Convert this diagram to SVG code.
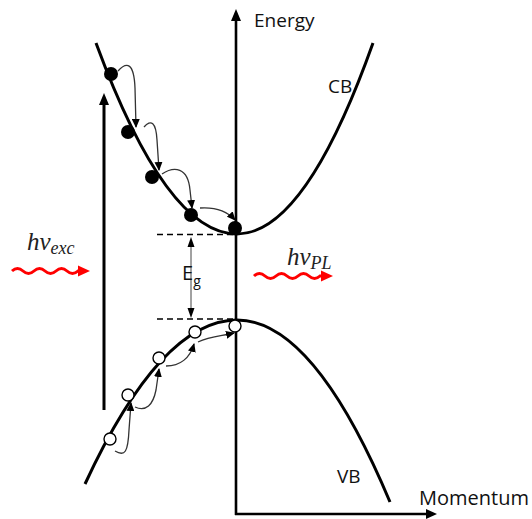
<svg xmlns="http://www.w3.org/2000/svg" width="532" height="519" viewBox="0 0 532 519">
<style>
.band{fill:none;stroke:#000;stroke-width:3}
.axis{fill:none;stroke:#000;stroke-width:2.6}
.hop{fill:none;stroke:#333;stroke-width:1.3;marker-end:url(#ah)}
.dash{fill:none;stroke:#000;stroke-width:1.6;stroke-dasharray:6,4}
.lbl{font-family:"Open Sans","Liberation Sans",Arial,sans-serif;fill:#111}
.math{font-family:"Liberation Serif","DejaVu Serif",serif;font-style:italic;fill:#222}
.wave{fill:none;stroke:#ff0000;stroke-width:3}
.e{fill:#000}
.h{fill:#fff;stroke:#000;stroke-width:1.4}
</style>
<defs>
<marker id="ah" markerUnits="userSpaceOnUse" markerWidth="9" markerHeight="8" refX="8" refY="4" orient="auto">
<path d="M0,0 L9,4 L0,8 z" fill="#000"/>
</marker>
</defs>
<g id="axes">
<line class="axis" x1="236" y1="515" x2="236" y2="18"/>
<polygon points="236,9 231,21 241,21" fill="#000"/>
<line class="axis" x1="235" y1="514" x2="428" y2="514"/>
<polygon points="437,514 426,509 426,519" fill="#000"/>
<text class="lbl" x="254" y="27" font-size="19">Energy</text>
<text class="lbl" x="419" y="505" font-size="20">Momentum</text>
</g>
<g id="cb">
<path class="band" d="M96,43 Q166.5,234 237,234 Q305,234 373,43"/>
<text class="lbl" x="328" y="93" font-size="19">CB</text>
</g>
<g id="vb">
<path class="band" d="M85,484 Q161,320 237,320 Q313.5,320 390,502"/>
<text class="lbl" x="337" y="483" font-size="19">VB</text>
</g>
<g id="gap">
<line class="dash" x1="157" y1="234.5" x2="237" y2="234.5"/>
<line class="dash" x1="157" y1="319" x2="237" y2="319"/>
<line x1="191" y1="246" x2="191" y2="310" stroke="#444" stroke-width="1"/>
<polygon points="191,237 187.5,247 194.5,247" fill="#000"/>
<polygon points="191,318 187.5,308 194.5,308" fill="#000"/>
<text class="lbl" x="182" y="280" font-size="20">E<tspan font-size="14" dy="6">g</tspan></text>
</g>
<g id="excitation">
<line x1="104" y1="410" x2="104" y2="102" stroke="#000" stroke-width="3"/>
<polygon points="104,93 99,105 109,105" fill="#000"/>
<path class="wave" d="M12,271 q5.5,-5 11,0 t11,0 t11,0 t11,0 t11,0 t11,0 l4,0"/>
<polygon points="90,271 78,265.5 78,276.5" fill="#ff0000"/>
<text class="math" x="27" y="250" font-size="25">hv<tspan font-size="18" dy="4">exc</tspan></text>
</g>
<g id="emission">
<path class="wave" d="M254,276 q5.5,-5 11,0 t11,0 t11,0 t11,0 t11,0 t11,0 l3,0"/>
<polygon points="333,276 321,270.5 321,281.5" fill="#ff0000"/>
<text class="math" x="287" y="265" font-size="25">hv<tspan font-size="18" dy="4">PL</tspan></text>
</g>
<g id="electrons">
<circle class="e" cx="111" cy="74" r="7"/>
<circle class="e" cx="128" cy="132" r="7"/>
<circle class="e" cx="152" cy="177" r="7"/>
<circle class="e" cx="191" cy="215" r="7"/>
<circle class="e" cx="235" cy="228" r="7"/>
</g>
<g id="holes">
<circle class="h" cx="110" cy="439" r="6"/>
<circle class="h" cx="128" cy="395" r="6"/>
<circle class="h" cx="159" cy="358" r="6"/>
<circle class="h" cx="195" cy="332" r="6"/>
<circle class="h" cx="235" cy="326" r="6"/>
</g>
<g id="connectors">
<path class="hop" d="M118,71 C127,61 134,63 135,88 L136,127"/>
<path class="hop" d="M144,127 C151,119 156,122 157,140 L159,170"/>
<path class="hop" d="M162,174 C174,166 188,167 190,190 L192,208"/>
<path class="hop" d="M200,208 C215,207 227,211 235,220"/>
<path class="hop" d="M115,451 C125,457 128,452 129,430 L131,403"/>
<path class="hop" d="M135,407 C146,412 153,405 156,390 L159,369"/>
<path class="hop" d="M166,366 C180,366 190,358 194,344"/>
<path class="hop" d="M198,342 C210,336 222,336 234,333"/>
</g>
</svg>
